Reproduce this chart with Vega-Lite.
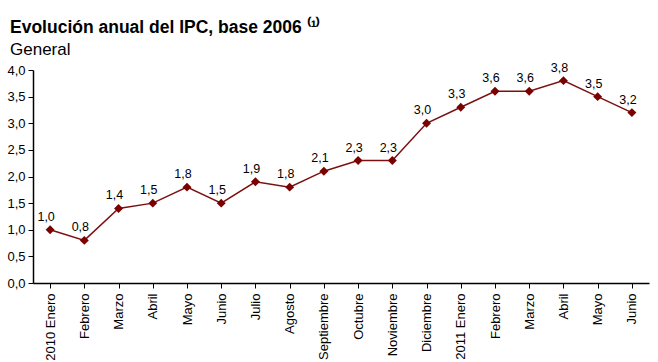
{
  "$schema": "https://vega.github.io/schema/vega-lite/v6.json",
  "autosize": "none",
  "width": 616,
  "height": 213,
  "padding": {"left": 33, "top": 70, "right": 9, "bottom": 79},
  "background": "white",
  "title": {
    "text": "Evolución anual del IPC, base 2006 ⁽¹⁾",
    "subtitle": "General",
    "anchor": "start",
    "frame": "group",
    "dx": -23,
    "offset": 4,
    "font": "Liberation Sans",
    "fontSize": 17.5,
    "fontWeight": "bold",
    "color": "#000000",
    "subtitleFont": "Liberation Sans",
    "subtitleFontSize": 17,
    "subtitleColor": "#000000",
    "subtitlePadding": 5
  },
  "config": {
    "view": {"stroke": null},
    "locale": {"number": {"decimal": ",", "thousands": ".", "grouping": [3], "currency": ["", " €"]}},
    "axis": {"labelFont": "Liberation Sans", "labelFontSize": 13, "labelColor": "#000000", "domainColor": "#000000", "tickColor": "#000000", "grid": false, "title": null}
  },
  "data": {
    "values": [
      {"mes": "2010 Enero", "valor": 1.0},
      {"mes": "Febrero", "valor": 0.8},
      {"mes": "Marzo", "valor": 1.4},
      {"mes": "Abril", "valor": 1.5},
      {"mes": "Mayo", "valor": 1.8},
      {"mes": "Junio", "valor": 1.5},
      {"mes": "Julio", "valor": 1.9},
      {"mes": "Agosto", "valor": 1.8},
      {"mes": "Septiembre", "valor": 2.1},
      {"mes": "Octubre", "valor": 2.3},
      {"mes": "Noviembre", "valor": 2.3},
      {"mes": "Diciembre", "valor": 3.0},
      {"mes": "2011 Enero", "valor": 3.3},
      {"mes": "Febrero ", "valor": 3.6},
      {"mes": "Marzo ", "valor": 3.6},
      {"mes": "Abril ", "valor": 3.8},
      {"mes": "Mayo ", "valor": 3.5},
      {"mes": "Junio ", "valor": 3.2}
    ]
  },
  "encoding": {
    "x": {
      "field": "mes",
      "type": "ordinal",
      "sort": null,
      "scale": {"paddingInner": 0, "paddingOuter": 0},
      "axis": {"labelAngle": -90, "labelAlign": "right", "labelBaseline": "middle", "labelPadding": 5, "tickSize": 5, "bandPosition": 0, "domainWidth": 1.5}
    },
    "y": {
      "field": "valor",
      "type": "quantitative",
      "scale": {"domain": [0, 4], "nice": false},
      "axis": {"values": [0, 0.5, 1, 1.5, 2, 2.5, 3, 3.5, 4], "format": ".1f", "tickSize": 5, "labelPadding": 3, "domainWidth": 1.5}
    }
  },
  "layer": [
    {"mark": {"type": "line", "color": "#7b1010", "strokeWidth": 1.5}},
    {"mark": {"type": "point", "shape": "diamond", "filled": true, "color": "#7b0000", "size": 80, "opacity": 1}},
    {
      "mark": {"type": "text", "font": "Liberation Sans", "fontSize": 12.5, "color": "#000000", "dx": -4, "dy": -13, "baseline": "middle"},
      "encoding": {"text": {"field": "valor", "type": "quantitative", "format": ".1f"}}
    }
  ]
}
